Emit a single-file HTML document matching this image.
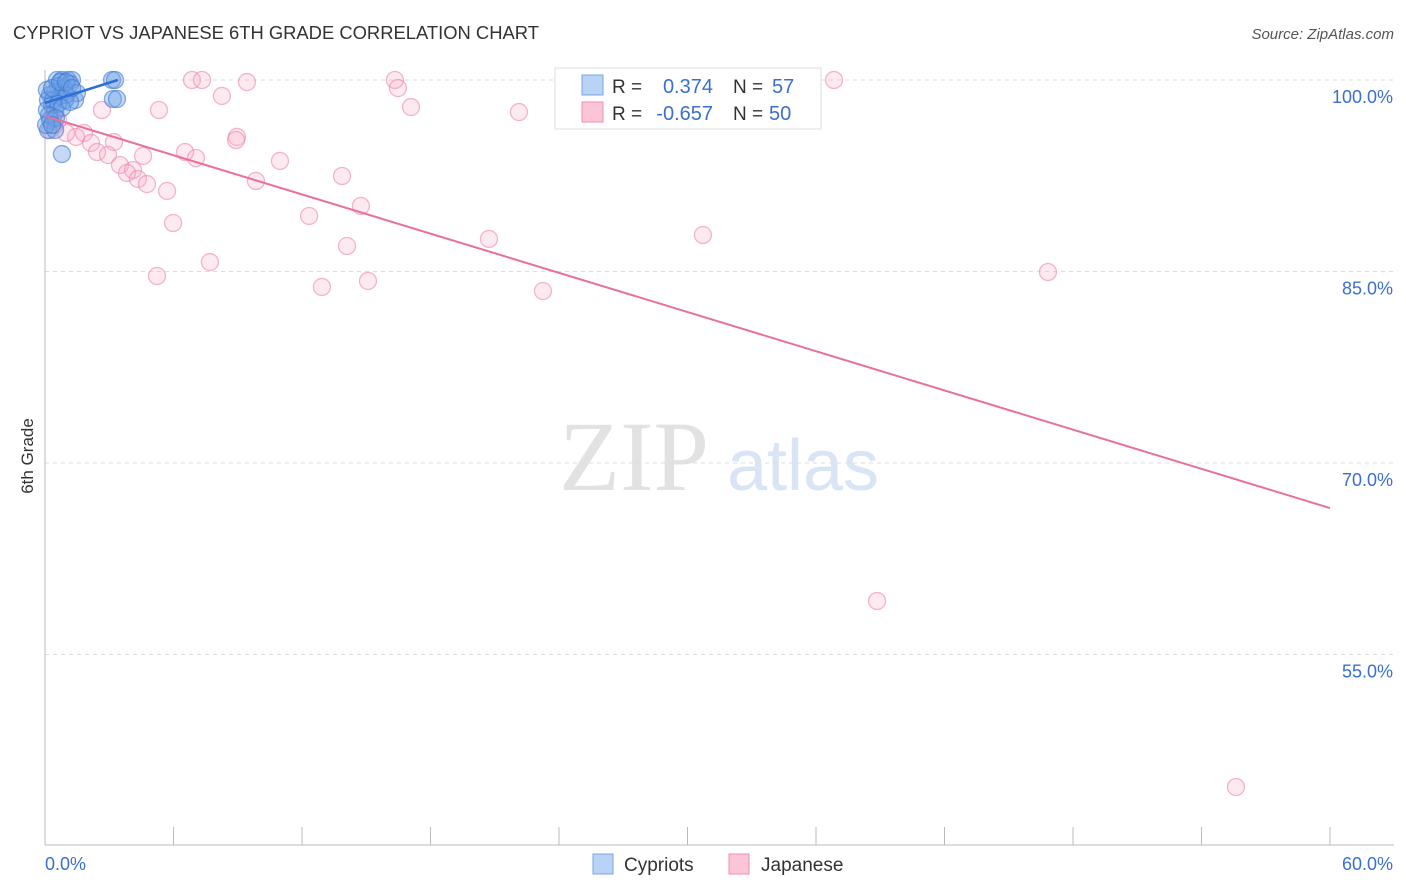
<!DOCTYPE html>
<html><head><meta charset="utf-8"><style>
body{margin:0;background:#fff;font-family:"Liberation Sans",sans-serif;}
svg{display:block}
</style></head><body>
<svg id="chart" width="1406" height="892" xmlns="http://www.w3.org/2000/svg">
<text x="13" y="39" font-size="18.4" fill="#333">CYPRIOT VS JAPANESE 6TH GRADE CORRELATION CHART</text>
<text x="1394" y="39" font-size="15" fill="#555" font-style="italic" text-anchor="end">Source: ZipAtlas.com</text>
<text x="0" y="0" transform="translate(33,456) rotate(-90)" font-size="17" fill="#333" text-anchor="middle">6th Grade</text>
<g>
<text x="634" y="490" font-size="100" font-family="Liberation Serif,serif" fill="#e2e2e2" text-anchor="middle">ZIP</text>
<text x="803" y="490" font-size="72" fill="#d9e5f4" text-anchor="middle">atlas</text>
</g>
<g id="grid"></g><g id="axes"></g><g id="pts"></g><g id="lines"></g>
<g>
<rect x="555" y="68" width="266" height="61" fill="#fff" stroke="#ddd"/>
<rect x="582" y="75" width="21" height="20" fill="#b8d3f5" stroke="#7aa7e0"/>
<rect x="582" y="102" width="21" height="20" fill="#fbc5d5" stroke="#ec8fae"/>
<text x="612" y="93" font-size="19" fill="#333">R =</text>
<text x="713" y="93" font-size="20" fill="#3a6fd0" text-anchor="end">0.374</text>
<text x="733" y="93" font-size="19" fill="#333">N =</text>
<text x="772" y="93" font-size="20" fill="#3a6fd0">57</text>
<text x="612" y="120" font-size="19" fill="#333">R =</text>
<text x="713" y="120" font-size="20" fill="#3a6fd0" text-anchor="end">-0.657</text>
<text x="733" y="120" font-size="19" fill="#333">N =</text>
<text x="769" y="120" font-size="20" fill="#3a6fd0">50</text>
</g>
<g>
<rect x="593" y="854" width="20" height="20" fill="#b8d3f5" stroke="#7aa7e0"/>
<text x="624" y="871" font-size="19" fill="#333">Cypriots</text>
<rect x="729" y="854" width="20" height="20" fill="#fbc5d5" stroke="#ec8fae"/>
<text x="761" y="871" font-size="19" fill="#333">Japanese</text>
</g>
</svg>
<script>
const yTicks=[100,85,70,55];
const yTickLabels=["100.0%","85.0%","70.0%","55.0%"];
const xTickLabels=["0.0%","60.0%"];
const blueX=[0.56,0.79,1.07,1.26,0.61,0.89,1.17,3.13,3.27,3.17,3.36,1.40,1.49,0.93,0.47,0.23,0.14,0.33,0.09,0.47,0.23,0.14,0.47,0.79,0.70,0.98,0.37,0.61,0.79,1.17,0.09,0.33,0.70,0.98,1.26,0.19,0.51,0.05,0.33];
const blueY=[100,100,100,100,99.53,99.37,99.69,100,100,98.51,98.51,98.43,98.98,98.43,99.06,98.83,98.43,98.04,97.65,97.49,96.87,96.08,96.08,94.20,98.75,98.83,98.43,98.12,97.81,98.28,99.22,99.37,99.84,99.84,99.37,97.26,97.02,96.48,96.48];
const pinkX=[6.86,7.33,9.43,8.26,5.32,2.66,16.34,16.48,17.09,22.13,36.84,8.96,8.92,3.22,1.82,1.45,0.98,2.15,2.43,2.94,4.58,6.54,7.05,10.97,3.50,4.11,3.83,4.34,4.76,5.70,9.85,13.87,14.75,12.33,5.98,14.10,20.73,30.72,7.70,5.23,12.93,15.08,23.25,46.83,38.85,55.61,0.23,0.47,0.61,0.37];
const pinkY=[100,100,99.84,98.75,97.65,97.65,100,99.37,97.88,97.49,100,95.54,95.30,95.14,95.85,95.54,95.85,95.07,94.36,94.13,94.05,94.36,93.89,93.66,93.34,92.95,92.72,92.25,91.85,91.31,92.09,92.48,90.13,89.35,88.80,87.00,87.55,87.86,85.74,84.65,83.79,84.26,83.47,84.96,59.19,44.62,96.08,96.48,96.87,97.02];
const blueTrend=[[0,98.2],[3.4,100]];
const pinkTrend=[[0,97.18],[60,66.47]];
const NS="http://www.w3.org/2000/svg";
const X=v=>45+v/60*1285, Y=v=>80+(100-v)/15*191.5;
function mk(t,a,p){const e=document.createElementNS(NS,t);for(const k in a)e.setAttribute(k,a[k]);document.getElementById(p).appendChild(e);return e;}
yTicks.forEach((t,i)=>{
 const l=mk('line',{x1:45,x2:1394,y1:Y(t),y2:Y(t),stroke:'#ddd','stroke-dasharray':'4,4'},'grid');
 
 
 const tx=mk('text',{x:1393,y:Y(t)+23,'font-size':18,fill:'#3a6fd0','text-anchor':'end'},'axes');
 tx.textContent=yTickLabels[i];
 
 
});
let a=mk('line',{x1:45,x2:45,y1:70,y2:845,stroke:'#bbb'},'axes');


a=mk('line',{x1:45,x2:1394,y1:845,y2:845,stroke:'#bbb'},'axes');


for(let i=1;i<=10;i++){const t=mk('line',{x1:X(i*6),x2:X(i*6),y1:827,y2:845,stroke:'#bbb'},'axes');
 
 }
[[45,'start',0],[1393,'end',1]].forEach(([x,an,i])=>{const t=mk('text',{x:x,y:870,'font-size':18,fill:'#3a6fd0','text-anchor':an},'axes');t.textContent=xTickLabels[i];
 
 });
pinkX.forEach((v,i)=>{const c=mk('circle',{cx:X(v),cy:Y(pinkY[i]),r:8.5,fill:'rgba(246,170,195,0.25)',stroke:'rgba(236,135,170,0.6)','stroke-width':1.3},'pts');
 
 });
blueX.forEach((v,i)=>{const c=mk('circle',{cx:X(v),cy:Y(blueY[i]),r:8.5,fill:'rgba(110,160,230,0.4)',stroke:'rgba(60,120,210,0.6)','stroke-width':1.3},'pts');
 
 });
let t=mk('line',{x1:X(pinkTrend[0][0]),y1:Y(pinkTrend[0][1]),x2:X(pinkTrend[1][0]),y2:Y(pinkTrend[1][1]),stroke:'#e8709a','stroke-width':2},'lines');


t=mk('line',{x1:X(blueTrend[0][0]),y1:Y(blueTrend[0][1]),x2:X(blueTrend[1][0]),y2:Y(blueTrend[1][1]),stroke:'#2e6fd6','stroke-width':2.5},'lines');


</script>
</body></html>
